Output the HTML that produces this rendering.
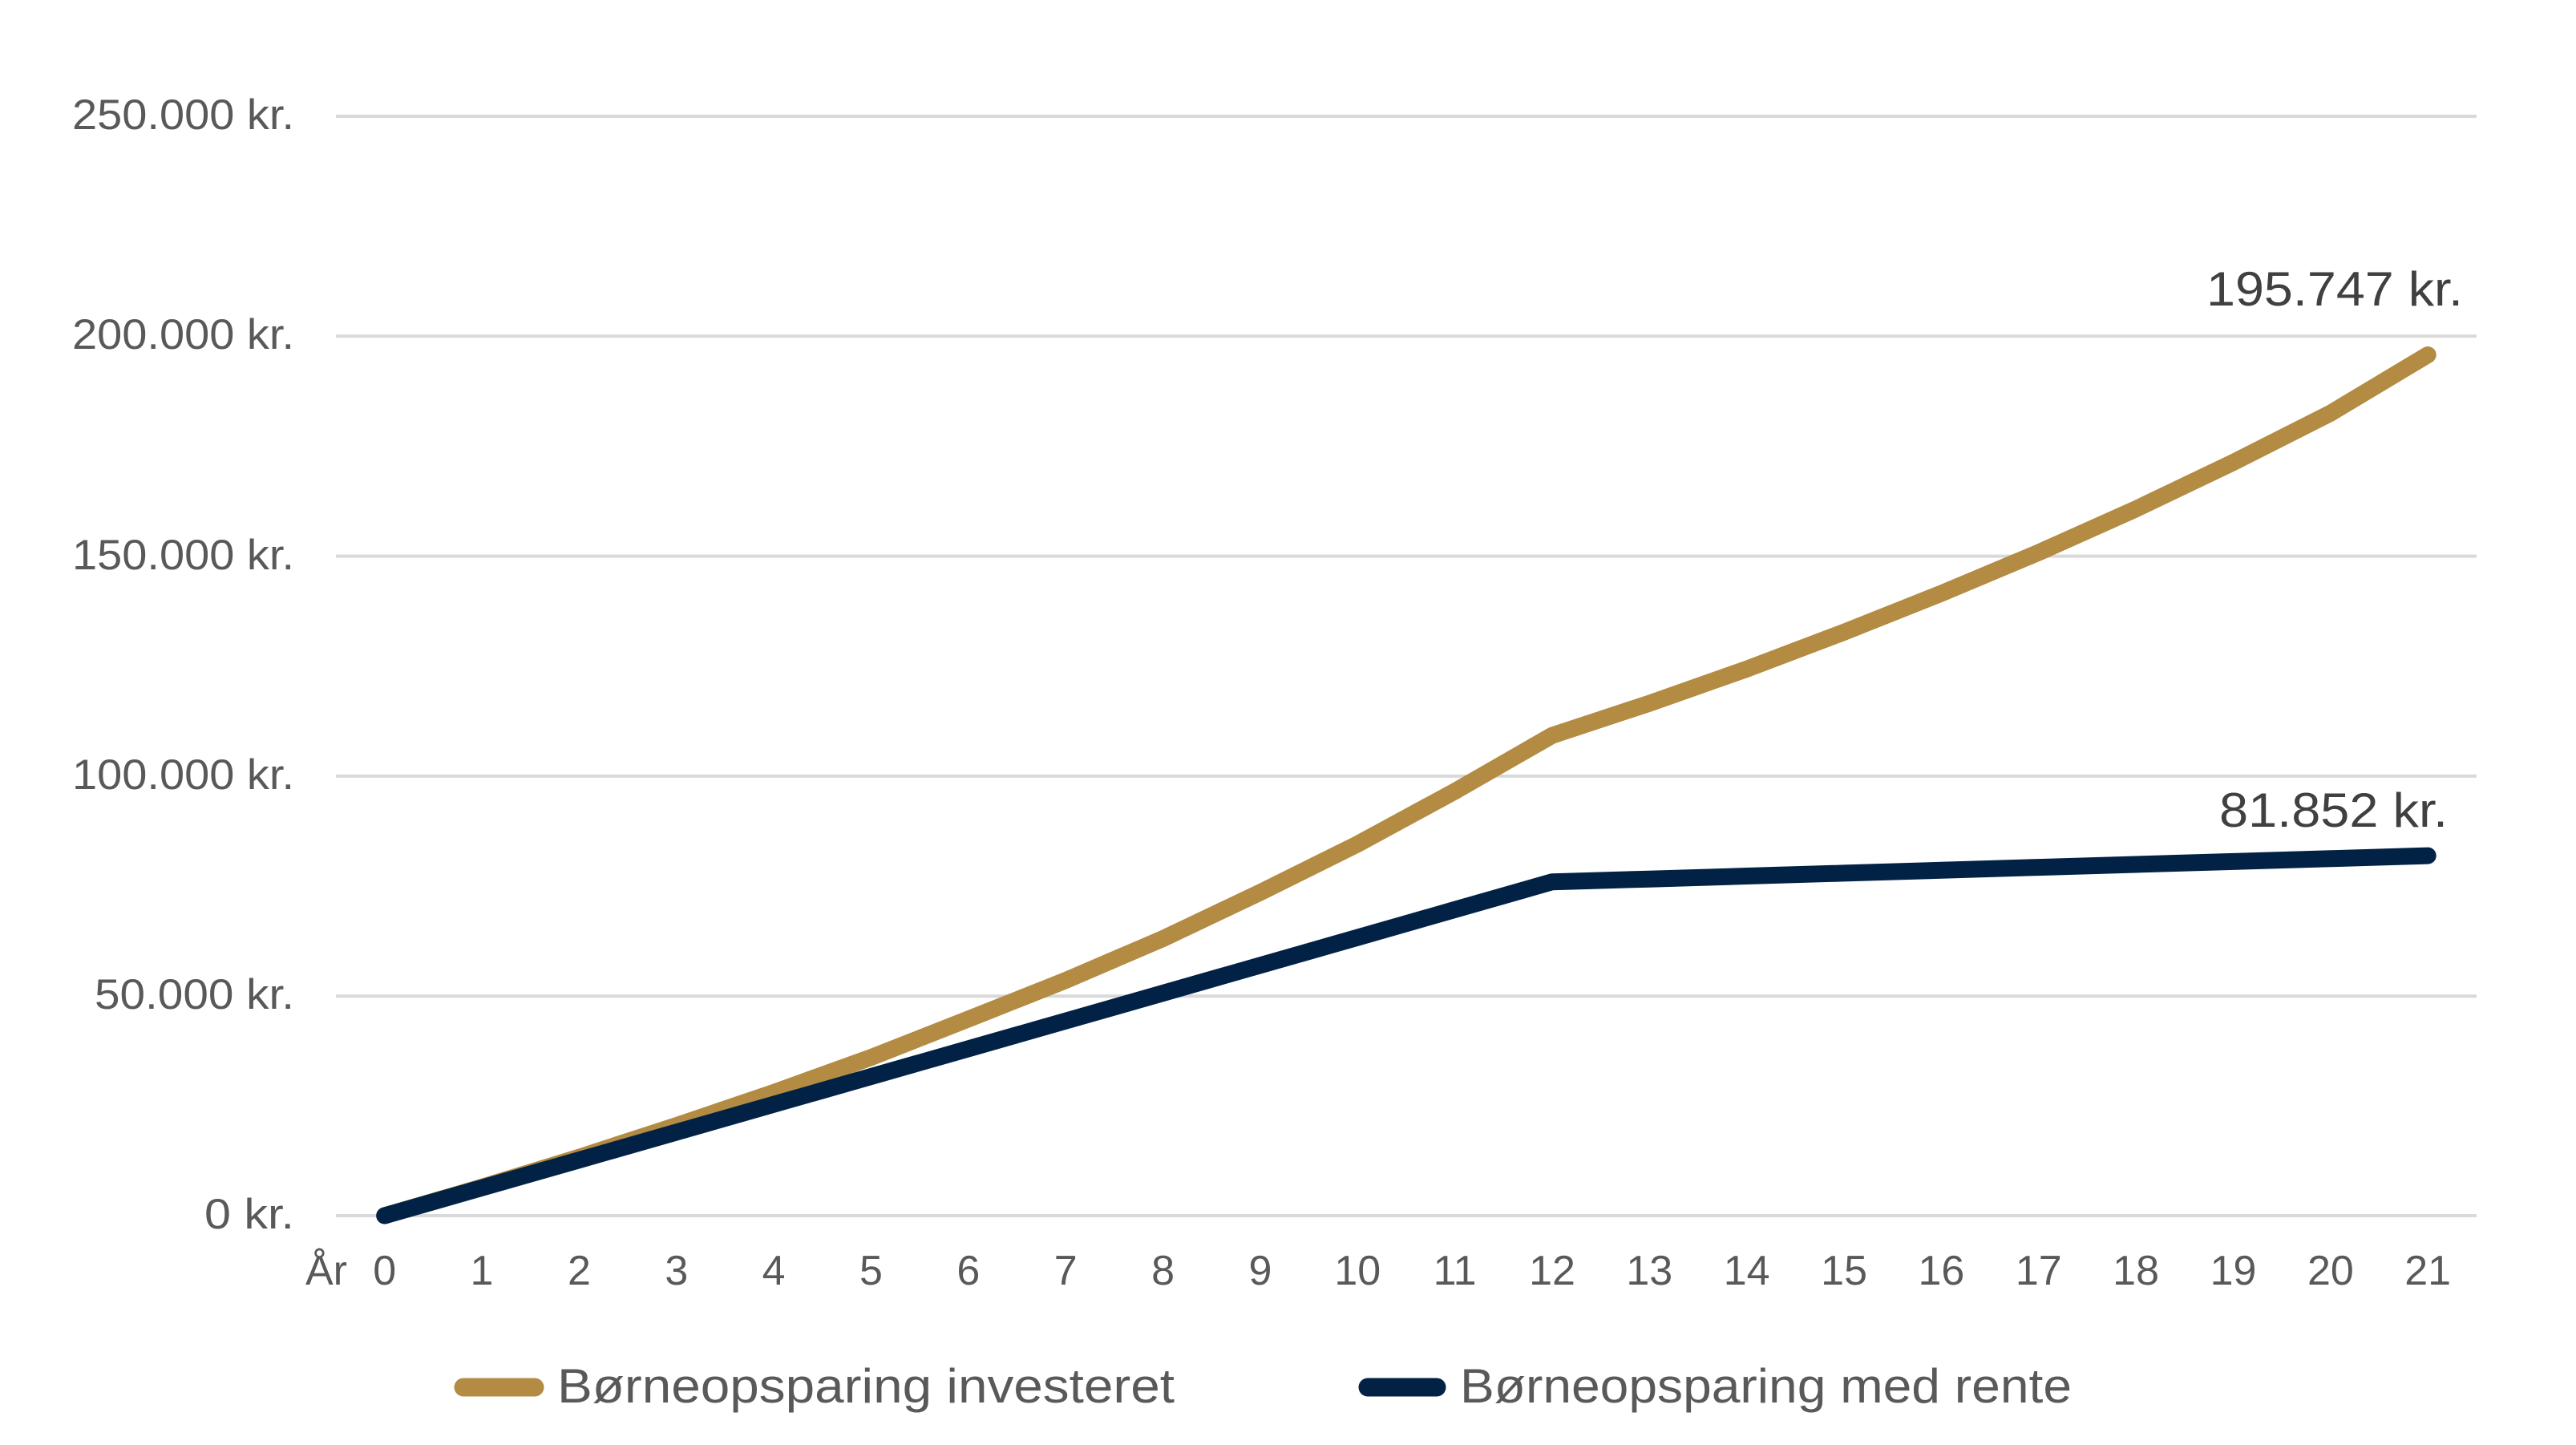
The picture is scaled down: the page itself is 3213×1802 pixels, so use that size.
<!DOCTYPE html>
<html><head><meta charset="utf-8"><style>
html,body{margin:0;padding:0;background:#fff;}
svg{display:block;}
text{font-family:"Liberation Sans","DejaVu Sans",sans-serif;}
</style></head><body>
<svg width="3213" height="1802" viewBox="0 0 3213 1802" xmlns="http://www.w3.org/2000/svg">
<rect width="3213" height="1802" fill="#fff"/>
<g stroke="#d9d9d9" stroke-width="4">
<line x1="419" y1="145" x2="3089" y2="145"/>
<line x1="419" y1="419.3" x2="3089" y2="419.3"/>
<line x1="419" y1="693.6" x2="3089" y2="693.6"/>
<line x1="419" y1="967.9" x2="3089" y2="967.9"/>
<line x1="419" y1="1242.2" x2="3089" y2="1242.2"/>
<line x1="419" y1="1516" x2="3089" y2="1516"/>
</g>
<g fill="#595959" font-size="53" text-anchor="end">
<text x="367" y="161" textLength="277" lengthAdjust="spacingAndGlyphs">250.000 kr.</text>
<text x="367" y="435" textLength="277" lengthAdjust="spacingAndGlyphs">200.000 kr.</text>
<text x="367" y="710" textLength="277" lengthAdjust="spacingAndGlyphs">150.000 kr.</text>
<text x="367" y="984" textLength="277" lengthAdjust="spacingAndGlyphs">100.000 kr.</text>
<text x="367" y="1258" textLength="249" lengthAdjust="spacingAndGlyphs">50.000 kr.</text>
<text x="367" y="1532" textLength="112" lengthAdjust="spacingAndGlyphs">0 kr.</text>
</g>
<g fill="#595959" font-size="52" text-anchor="middle">
<text x="407" y="1602">År</text>
<text x="479.7" y="1602">0</text><text x="601" y="1602">1</text><text x="722.4" y="1602">2</text><text x="843.8" y="1602">3</text><text x="965.1" y="1602">4</text><text x="1086.5" y="1602">5</text><text x="1207.8" y="1602">6</text><text x="1329.2" y="1602">7</text><text x="1450.6" y="1602">8</text><text x="1571.9" y="1602">9</text><text x="1693.3" y="1602">10</text><text x="1814.6" y="1602">11</text><text x="1936" y="1602">12</text><text x="2057.3" y="1602">13</text><text x="2178.7" y="1602">14</text><text x="2300.1" y="1602">15</text><text x="2421.4" y="1602">16</text><text x="2542.8" y="1602">17</text><text x="2664.1" y="1602">18</text><text x="2785.5" y="1602">19</text><text x="2906.9" y="1602">20</text><text x="3028.2" y="1602">21</text>
</g>
<polyline fill="none" stroke="#b38b42" stroke-width="21" stroke-linecap="round" stroke-linejoin="round" points="479.7,1516 601,1480.4 722.4,1443.1 843.8,1403.6 965.1,1362.4 1086.5,1318.6 1207.8,1270.9 1329.2,1222.6 1450.6,1170.5 1571.9,1112.9 1693.3,1052.6 1814.6,986.8 1936,917.1 2057.3,877.1 2178.7,834.3 2300.1,788.3 2421.4,740 2542.8,689 2664.1,634.7 2785.5,576.6 2906.9,515.2 3028.2,442.5"/>
<polyline fill="none" stroke="#022245" stroke-width="21" stroke-linecap="round" stroke-linejoin="round" points="479.7,1516 601,1481.3 722.4,1446.6 843.8,1411.9 965.1,1377.2 1086.5,1342.5 1207.8,1307.9 1329.2,1273.2 1450.6,1238.5 1571.9,1203.8 1693.3,1169.1 1814.6,1134.4 1936,1099.7 2057.3,1096.2 2178.7,1092.5 2300.1,1088.9 2421.4,1085.3 2542.8,1081.6 2664.1,1078 2785.5,1074.4 2906.9,1070.8 3028.2,1067.1"/>
<g fill="#404040" font-size="60">
<text x="2752" y="381" textLength="320" lengthAdjust="spacingAndGlyphs">195.747 kr.</text>
<text x="2768" y="1031" textLength="285" lengthAdjust="spacingAndGlyphs">81.852 kr.</text>
</g>
<line x1="578" y1="1730" x2="667" y2="1730" stroke="#b38b42" stroke-width="23" stroke-linecap="round"/>
<line x1="1706" y1="1730" x2="1792" y2="1730" stroke="#022245" stroke-width="23" stroke-linecap="round"/>
<g fill="#595959" font-size="60">
<text x="695" y="1749" textLength="770" lengthAdjust="spacingAndGlyphs">Børneopsparing investeret</text>
<text x="1821" y="1749" textLength="763" lengthAdjust="spacingAndGlyphs">Børneopsparing med rente</text>
</g>
</svg>
</body></html>
